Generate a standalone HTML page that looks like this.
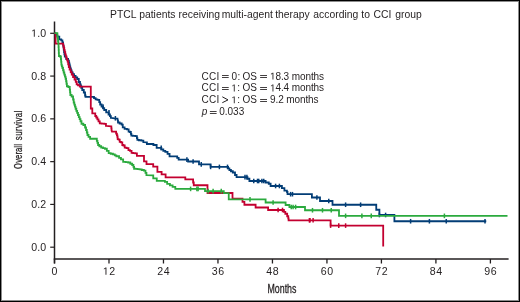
<!DOCTYPE html>
<html><head><meta charset="utf-8"><style>
html,body{margin:0;padding:0;background:#fff;}
body{width:520px;height:302px;overflow:hidden;position:relative;}
#frame{position:absolute;left:0;top:0;width:518px;height:300px;border:1px solid #000;box-shadow:inset 0 0 0 1px rgba(0,0,0,0.45);}
svg{position:absolute;left:0;top:0;will-change:transform;}
.t{font-family:"Liberation Sans",sans-serif;font-size:10.6px;letter-spacing:0.5px;fill:#231f20;}
.c{font-family:"Liberation Sans",sans-serif;font-size:10px;fill:#231f20;}
.one{fill-opacity:0;}
.n{font-family:"Liberation Sans",sans-serif;font-size:12px;fill:#231f20;}
</style></head><body>
<div id="frame"></div>
<svg width="520" height="302" viewBox="0 0 520 302">
<text y="17.55" class="c" style="font-size:10.35px"><tspan x="110.03">PTCL</tspan> <tspan x="139.22">patients</tspan> <tspan x="178.60">receiving</tspan> <tspan x="221.70">multi-agent</tspan> <tspan x="275.24">therapy</tspan> <tspan x="313.35">according</tspan> <tspan x="361.34">to</tspan> <tspan x="373.56">CCI</tspan> <tspan x="395.25">group</tspan></text>
<line x1="54.5" y1="21.5" x2="54.5" y2="263.5" stroke="#231f20" stroke-width="1.5"/>
<line x1="53.75" y1="259" x2="508.6" y2="259" stroke="#231f20" stroke-width="1.5"/>
<line x1="50.2" y1="247.20" x2="54.5" y2="247.20" stroke="#231f20" stroke-width="1.2"/>
<text x="46.2" y="250.70" text-anchor="end" class="t" style="letter-spacing:0.1px">0.0</text>
<line x1="50.2" y1="204.42" x2="54.5" y2="204.42" stroke="#231f20" stroke-width="1.2"/>
<text x="46.2" y="207.92" text-anchor="end" class="t" style="letter-spacing:0.1px">0.2</text>
<line x1="50.2" y1="161.64" x2="54.5" y2="161.64" stroke="#231f20" stroke-width="1.2"/>
<text x="46.2" y="165.14" text-anchor="end" class="t" style="letter-spacing:0.1px">0.4</text>
<line x1="50.2" y1="118.86" x2="54.5" y2="118.86" stroke="#231f20" stroke-width="1.2"/>
<text x="46.2" y="122.36" text-anchor="end" class="t" style="letter-spacing:0.1px">0.6</text>
<line x1="50.2" y1="76.08" x2="54.5" y2="76.08" stroke="#231f20" stroke-width="1.2"/>
<text x="46.2" y="79.58" text-anchor="end" class="t" style="letter-spacing:0.1px">0.8</text>
<line x1="50.2" y1="33.30" x2="54.5" y2="33.30" stroke="#231f20" stroke-width="1.2"/>
<text x="46.2" y="36.80" text-anchor="end" class="t" style="letter-spacing:0.1px"><tspan class="one">1</tspan>.0</text>
<line x1="54.50" y1="259" x2="54.50" y2="263.5" stroke="#231f20" stroke-width="1.3"/>
<text x="54.75" y="274.8" text-anchor="middle" class="t">0</text>
<line x1="108.99" y1="259" x2="108.99" y2="263.5" stroke="#231f20" stroke-width="1.3"/>
<text x="109.24" y="274.8" text-anchor="middle" class="t"><tspan class="one">1</tspan>2</text>
<line x1="163.47" y1="259" x2="163.47" y2="263.5" stroke="#231f20" stroke-width="1.3"/>
<text x="163.72" y="274.8" text-anchor="middle" class="t">24</text>
<line x1="217.96" y1="259" x2="217.96" y2="263.5" stroke="#231f20" stroke-width="1.3"/>
<text x="218.21" y="274.8" text-anchor="middle" class="t">36</text>
<line x1="272.45" y1="259" x2="272.45" y2="263.5" stroke="#231f20" stroke-width="1.3"/>
<text x="272.70" y="274.8" text-anchor="middle" class="t">48</text>
<line x1="326.94" y1="259" x2="326.94" y2="263.5" stroke="#231f20" stroke-width="1.3"/>
<text x="327.19" y="274.8" text-anchor="middle" class="t">60</text>
<line x1="381.42" y1="259" x2="381.42" y2="263.5" stroke="#231f20" stroke-width="1.3"/>
<text x="381.67" y="274.8" text-anchor="middle" class="t">72</text>
<line x1="435.91" y1="259" x2="435.91" y2="263.5" stroke="#231f20" stroke-width="1.3"/>
<text x="436.16" y="274.8" text-anchor="middle" class="t">84</text>
<line x1="490.40" y1="259" x2="490.40" y2="263.5" stroke="#231f20" stroke-width="1.3"/>
<text x="490.65" y="274.8" text-anchor="middle" class="t">96</text>
<text transform="translate(21.5,168.9) rotate(-90) scale(0.66,1)" class="n" style="font-size:11.6px" stroke="#231f20" stroke-width="0.3" textLength="37.5" lengthAdjust="spacing">Overall</text>
<text transform="translate(21.5,140.2) rotate(-90) scale(0.68,1)" class="n" style="font-size:11.6px" stroke="#231f20" stroke-width="0.3" textLength="43.5" lengthAdjust="spacing">survival</text>
<text transform="translate(267.5,292.6) scale(0.68,1)" class="n" style="font-size:13px" stroke="#231f20" stroke-width="0.3" textLength="42.5" lengthAdjust="spacing">Months</text>
<text x="201.6" y="79.6" class="c" style="letter-spacing:0.2px">CCI</text>
<rect x="222.0" y="75" width="6.70" height="1" fill="#231f20" fill-opacity="0.85"/><rect x="222.0" y="77" width="6.70" height="1" fill="#231f20" fill-opacity="0.85"/>
<text x="231.6" y="79.6" class="c" style="letter-spacing:0.4px">0:</text>
<text x="242.5" y="79.6" class="c">OS</text>
<rect x="260.1" y="75" width="6.90" height="1" fill="#231f20" fill-opacity="0.85"/><rect x="260.1" y="77" width="6.90" height="1" fill="#231f20" fill-opacity="0.85"/>
<text x="270.0" y="79.6" class="c" style="letter-spacing:-0.1px"><tspan class="one">1</tspan>8.3 months</text>
<text x="201.6" y="91.4" class="c" style="letter-spacing:0.2px">CCI</text>
<rect x="222.0" y="87" width="6.70" height="1" fill="#231f20" fill-opacity="0.85"/><rect x="222.0" y="89" width="6.70" height="1" fill="#231f20" fill-opacity="0.85"/>
<text x="231.3" y="91.4" class="c" style="letter-spacing:0.4px"><tspan class="one">1</tspan>:</text>
<text x="242.5" y="91.4" class="c">OS</text>
<rect x="260.1" y="87" width="6.90" height="1" fill="#231f20" fill-opacity="0.85"/><rect x="260.1" y="89" width="6.90" height="1" fill="#231f20" fill-opacity="0.85"/>
<text x="270.0" y="91.4" class="c" style="letter-spacing:-0.1px"><tspan class="one">1</tspan>4.4 months</text>
<text x="201.6" y="103.3" class="c" style="letter-spacing:0.2px">CCI</text>
<polyline points="222.3,96.80 228,99.90 222.3,102.70" fill="none" stroke="#231f20" stroke-width="1"/>
<text x="231.3" y="103.3" class="c" style="letter-spacing:0.4px"><tspan class="one">1</tspan>:</text>
<text x="242.5" y="103.3" class="c">OS</text>
<rect x="260.1" y="99" width="6.90" height="1" fill="#231f20" fill-opacity="0.85"/><rect x="260.1" y="101" width="6.90" height="1" fill="#231f20" fill-opacity="0.85"/>
<text x="270.0" y="103.3" class="c" style="letter-spacing:-0.1px">9.2 months</text>
<text x="201.8" y="115.1" class="c" font-style="italic">p</text>
<rect x="209.9" y="111" width="6.70" height="1" fill="#231f20" fill-opacity="0.85"/><rect x="209.9" y="113" width="6.70" height="1" fill="#231f20" fill-opacity="0.85"/>
<text x="219.2" y="115.1" class="c">0.033</text>
<polyline points="54.50,33.20 55.50,33.20 55.50,34.50 56.50,34.50 57.25,34.50 57.25,36.60 58.00,36.60 59.30,36.60 59.30,39.30 60.60,39.30 61.25,39.30 61.25,40.30 61.90,40.30 62.40,40.30 62.40,42.30 62.90,42.30 63.08,42.30 63.08,44.65 63.42,44.65 63.42,47.00 63.60,47.00 63.75,47.00 63.75,49.50 64.05,49.50 64.05,52.00 64.20,52.00 64.40,52.00 64.40,54.35 64.80,54.35 64.80,56.70 65.00,56.70 66.25,56.70 66.25,59.00 67.50,59.00 68.10,59.00 68.10,60.70 68.70,60.70 68.90,60.70 68.90,62.60 69.30,62.60 69.30,64.50 69.50,64.50 69.75,64.50 69.75,66.50 70.25,66.50 70.25,68.50 70.50,68.50 70.88,68.50 70.88,70.50 71.62,70.50 71.62,72.50 72.00,72.50 72.67,72.50 72.67,74.25 74.03,74.25 74.03,76.00 74.70,76.00 75.60,76.00 75.60,77.50 76.50,77.50 77.25,77.50 77.25,79.00 78.00,79.00 78.75,79.00 78.75,82.00 79.50,82.00 80.00,82.00 80.00,84.50 80.50,84.50 80.75,84.50 80.75,86.15 81.25,86.15 81.25,87.80 81.50,87.80 82.25,87.80 82.25,90.00 83.00,90.00 83.80,90.00 83.80,92.50 84.60,92.50 85.05,92.50 85.05,95.50 85.50,95.50 85.50,96.90 92.75,96.90 94.00,96.90 94.00,98.10 95.25,98.10 95.62,98.10 95.62,99.40 96.00,99.40 97.40,99.40 97.40,99.90 98.80,99.90 99.25,99.90 99.25,102.20 100.15,102.20 100.15,104.50 100.60,104.50 101.55,104.50 101.55,106.50 102.50,106.50 103.08,106.50 103.08,108.25 104.22,108.25 104.22,110.00 104.80,110.00 106.20,110.00 106.20,112.40 107.60,112.40 108.55,112.40 108.55,114.50 109.50,114.50 109.95,114.50 109.95,116.20 110.85,116.20 110.85,117.90 111.30,117.90 114.50,118.30 117.50,118.50 117.80,120.70 118.00,120.70 118.00,122.50 118.20,122.50 119.60,122.50 119.60,123.50 121.00,123.50 121.65,123.50 121.65,124.60 122.30,124.60 122.75,124.60 122.75,127.40 123.20,127.40 124.60,127.40 124.60,128.80 126.00,128.80 126.95,128.80 126.95,129.30 127.90,129.30 128.60,129.30 128.60,131.60 129.30,131.60 129.95,131.60 129.95,132.00 130.60,132.00 130.85,132.00 130.85,133.85 131.35,133.85 131.35,135.70 131.60,135.70 132.88,135.70 132.88,135.95 135.42,135.95 135.42,136.20 136.70,136.20 136.92,136.20 136.92,138.05 137.38,138.05 137.38,139.90 137.60,139.90 138.88,139.90 138.88,140.25 141.42,140.25 141.42,140.60 142.70,140.60 143.35,140.60 143.35,142.20 144.00,142.20 146.40,142.40 146.90,142.40 146.90,144.00 147.40,144.00 152.90,144.00 153.40,144.00 153.40,145.00 153.90,145.00 155.90,145.00 156.65,145.00 156.65,147.90 157.40,147.90 160.40,147.90 161.35,147.90 161.35,149.40 162.30,149.40 163.30,149.40 163.30,150.90 164.30,150.90 165.30,150.90 165.30,151.90 166.30,151.90 167.55,151.90 167.55,153.90 168.80,153.90 169.55,153.90 169.55,156.40 170.30,156.40 176.70,156.40 177.20,156.40 177.20,157.90 177.70,157.90 178.65,157.90 178.65,159.60 179.60,159.60 188.10,159.60 188.10,161.50 199.00,161.50 199.00,164.40 210.60,164.40 210.60,166.90 227.50,166.90 228.12,166.90 228.12,168.45 229.38,168.45 229.38,170.00 230.00,170.00 230.94,170.00 230.94,171.25 232.81,171.25 232.81,172.50 233.75,172.50 235.00,172.50 235.00,175.00 236.25,175.00 236.57,175.00 236.57,177.10 236.90,177.10 247.50,177.10 247.50,178.75 249.40,178.75 249.40,181.00 265.60,181.00 265.60,182.50 268.75,182.50 268.75,183.75 270.60,183.75 270.60,186.00 281.90,186.00 281.90,188.10 284.40,188.10 284.40,190.60 286.90,190.60 286.90,191.90 287.50,191.90 287.50,194.20 311.90,194.20 311.90,197.50 320.00,197.50 320.00,201.00 332.50,201.00 332.50,204.75 376.25,204.75 376.25,209.75 379.40,209.75 379.40,215.00 394.40,215.00 394.40,221.25 486.25,221.25" fill="none" stroke="#023d76" stroke-width="1.8" stroke-linejoin="miter" stroke-linecap="butt"/>
<line x1="103.00" y1="104.20" x2="103.00" y2="108.80" stroke="#023d76" stroke-width="1.5"/>
<line x1="109.00" y1="110.10" x2="109.00" y2="114.70" stroke="#023d76" stroke-width="1.5"/>
<line x1="115.40" y1="116.00" x2="115.40" y2="120.60" stroke="#023d76" stroke-width="1.5"/>
<line x1="161.20" y1="145.60" x2="161.20" y2="150.20" stroke="#023d76" stroke-width="1.5"/>
<line x1="186.90" y1="157.30" x2="186.90" y2="161.90" stroke="#023d76" stroke-width="1.5"/>
<line x1="193.10" y1="159.20" x2="193.10" y2="163.80" stroke="#023d76" stroke-width="1.5"/>
<line x1="201.25" y1="162.10" x2="201.25" y2="166.70" stroke="#023d76" stroke-width="1.5"/>
<line x1="210.60" y1="164.60" x2="210.60" y2="169.20" stroke="#023d76" stroke-width="1.5"/>
<line x1="219.40" y1="164.60" x2="219.40" y2="169.20" stroke="#023d76" stroke-width="1.5"/>
<line x1="227.50" y1="164.60" x2="227.50" y2="169.20" stroke="#023d76" stroke-width="1.5"/>
<line x1="245.00" y1="174.80" x2="245.00" y2="179.40" stroke="#023d76" stroke-width="1.5"/>
<line x1="246.90" y1="174.80" x2="246.90" y2="179.40" stroke="#023d76" stroke-width="1.5"/>
<line x1="253.75" y1="178.70" x2="253.75" y2="183.30" stroke="#023d76" stroke-width="1.5"/>
<line x1="257.50" y1="178.70" x2="257.50" y2="183.30" stroke="#023d76" stroke-width="1.5"/>
<line x1="258.75" y1="178.70" x2="258.75" y2="183.30" stroke="#023d76" stroke-width="1.5"/>
<line x1="261.90" y1="178.70" x2="261.90" y2="183.30" stroke="#023d76" stroke-width="1.5"/>
<line x1="263.75" y1="178.70" x2="263.75" y2="183.30" stroke="#023d76" stroke-width="1.5"/>
<line x1="275.60" y1="183.70" x2="275.60" y2="188.30" stroke="#023d76" stroke-width="1.5"/>
<line x1="279.40" y1="183.70" x2="279.40" y2="188.30" stroke="#023d76" stroke-width="1.5"/>
<line x1="290.60" y1="191.90" x2="290.60" y2="196.50" stroke="#023d76" stroke-width="1.5"/>
<line x1="292.50" y1="191.90" x2="292.50" y2="196.50" stroke="#023d76" stroke-width="1.5"/>
<line x1="316.90" y1="195.20" x2="316.90" y2="199.80" stroke="#023d76" stroke-width="1.5"/>
<line x1="328.75" y1="198.70" x2="328.75" y2="203.30" stroke="#023d76" stroke-width="1.5"/>
<line x1="345.60" y1="202.45" x2="345.60" y2="207.05" stroke="#023d76" stroke-width="1.5"/>
<line x1="360.60" y1="202.45" x2="360.60" y2="207.05" stroke="#023d76" stroke-width="1.5"/>
<line x1="379.40" y1="212.70" x2="379.40" y2="217.30" stroke="#023d76" stroke-width="1.5"/>
<line x1="385.60" y1="212.70" x2="385.60" y2="217.30" stroke="#023d76" stroke-width="1.5"/>
<line x1="410.60" y1="218.95" x2="410.60" y2="223.55" stroke="#023d76" stroke-width="1.5"/>
<line x1="429.40" y1="218.95" x2="429.40" y2="223.55" stroke="#023d76" stroke-width="1.5"/>
<line x1="446.25" y1="218.95" x2="446.25" y2="223.55" stroke="#023d76" stroke-width="1.5"/>
<line x1="485.00" y1="218.95" x2="485.00" y2="223.55" stroke="#023d76" stroke-width="1.5"/>
<polyline points="54.50,33.20 55.60,33.60 55.60,43.60 62.90,43.60 63.17,43.60 63.17,45.80 63.73,45.80 63.73,48.00 64.00,48.00 64.25,48.00 64.25,50.10 64.75,50.10 64.75,52.20 65.25,52.20 65.25,54.30 65.50,54.30 65.80,54.30 65.80,56.30 66.40,56.30 66.40,58.30 66.70,58.30 67.00,58.30 67.00,59.90 67.60,59.90 67.60,61.50 67.90,61.50 68.20,61.50 68.20,64.25 68.80,64.25 68.80,67.00 69.10,67.00 69.63,67.00 69.63,69.57 70.70,69.57 70.70,72.13 71.77,72.13 71.77,74.70 72.30,74.70 73.05,74.70 73.05,77.10 74.55,77.10 74.55,79.50 75.30,79.50 75.75,79.50 75.75,81.95 76.65,81.95 76.65,84.40 77.10,84.40 78.00,84.40 78.00,85.30 78.90,85.30 79.80,85.30 79.80,86.70 80.70,86.70 90.80,86.70 90.80,108.50 92.30,108.50 92.30,113.40 95.00,113.40 95.25,113.40 95.25,116.00 95.50,116.00 96.25,116.00 96.25,117.50 97.00,117.50 97.35,117.50 97.35,119.40 97.70,119.40 98.50,119.40 98.50,121.40 99.30,121.40 99.75,121.40 99.75,123.40 100.20,123.40 101.58,123.40 101.58,123.65 104.33,123.65 104.33,123.90 105.70,123.90 105.95,123.90 105.95,125.90 106.20,125.90 111.20,126.30 111.33,126.30 111.33,128.30 111.58,128.30 111.58,130.30 111.70,130.30 112.00,131.70 115.70,131.70 116.10,131.70 116.10,133.55 116.90,133.55 116.90,135.40 117.30,135.40 117.42,135.40 117.42,137.25 117.67,137.25 117.67,139.10 117.80,139.10 118.60,139.10 118.60,139.70 119.40,139.70 119.70,139.70 119.70,141.80 120.00,141.80 121.00,141.80 121.00,142.30 122.00,142.30 122.30,142.30 122.30,145.00 122.60,145.00 123.40,145.00 123.40,145.50 124.20,145.50 124.70,145.50 124.70,147.60 125.20,147.60 126.55,147.60 126.55,148.10 127.90,148.10 128.45,148.10 128.45,150.20 129.00,150.20 130.00,150.20 130.00,150.80 131.00,150.80 131.55,150.80 131.55,152.90 132.10,152.90 133.18,152.90 133.18,153.15 135.32,153.15 135.32,153.40 136.40,153.40 136.90,153.40 136.90,155.90 137.40,155.90 144.00,155.90 144.00,161.30 146.50,161.30 146.50,164.20 153.20,164.20 153.20,166.60 157.40,166.60 157.40,171.90 161.60,171.90 161.60,174.40 165.60,174.40 165.60,177.40 185.30,177.40 185.30,179.40 193.10,179.40 193.10,182.50 193.75,182.50 193.75,185.25 207.50,185.25 207.50,193.00 232.50,193.00 232.50,198.75 242.50,198.75 242.50,201.90 244.40,201.90 244.40,204.75 255.60,204.75 255.60,207.50 268.10,207.50 268.10,210.00 283.50,210.00 283.95,210.00 283.95,211.90 284.40,211.90 285.32,211.90 285.32,213.75 286.25,213.75 287.18,213.75 287.18,216.25 288.10,216.25 288.26,216.25 288.26,218.28 288.59,218.28 288.59,220.30 288.75,220.30 330.60,220.30 330.60,225.60 383.20,225.60 383.20,246.50" fill="none" stroke="#c30030" stroke-width="1.8" stroke-linejoin="miter" stroke-linecap="butt"/>
<line x1="278.10" y1="207.70" x2="278.10" y2="212.30" stroke="#c30030" stroke-width="1.5"/>
<line x1="282.50" y1="207.70" x2="282.50" y2="212.30" stroke="#c30030" stroke-width="1.5"/>
<line x1="309.40" y1="218.00" x2="309.40" y2="222.60" stroke="#c30030" stroke-width="1.5"/>
<line x1="310.00" y1="218.00" x2="310.00" y2="222.60" stroke="#c30030" stroke-width="1.5"/>
<line x1="313.10" y1="218.00" x2="313.10" y2="222.60" stroke="#c30030" stroke-width="1.5"/>
<line x1="330.60" y1="223.30" x2="330.60" y2="227.90" stroke="#c30030" stroke-width="1.5"/>
<line x1="338.75" y1="223.30" x2="338.75" y2="227.90" stroke="#c30030" stroke-width="1.5"/>
<line x1="345.60" y1="223.30" x2="345.60" y2="227.90" stroke="#c30030" stroke-width="1.5"/>
<polyline points="54.50,33.10 57.20,33.10 57.36,33.10 57.36,35.83 57.69,35.83 57.69,38.55 58.01,38.55 58.01,41.27 58.34,41.27 58.34,44.00 58.50,44.00 58.56,44.00 58.56,47.00 58.69,47.00 58.69,50.00 58.81,50.00 58.81,53.00 58.94,53.00 58.94,56.00 59.00,56.00 59.90,56.00 59.90,56.50 60.80,56.50 60.92,56.50 60.92,59.23 61.15,59.23 61.15,61.97 61.38,61.97 61.38,64.70 61.50,64.70 61.80,64.70 61.80,66.35 62.40,66.35 62.40,68.00 62.70,68.00 63.03,68.00 63.03,70.25 63.67,70.25 63.67,72.50 64.00,72.50 64.32,72.50 64.32,74.58 64.95,74.58 64.95,76.67 65.58,76.67 65.58,78.75 65.90,78.75 66.10,78.75 66.10,81.25 66.50,81.25 66.50,83.75 66.90,83.75 66.90,86.25 67.10,86.25 68.35,86.25 68.35,87.00 69.60,87.00 69.75,87.00 69.75,89.67 70.05,89.67 70.05,92.33 70.35,92.33 70.35,95.00 70.50,95.00 71.62,95.00 71.62,96.50 72.75,96.50 73.06,96.50 73.06,99.50 73.69,99.50 73.69,102.50 74.00,102.50 74.32,102.50 74.32,104.58 74.95,104.58 74.95,106.67 75.58,106.67 75.58,108.75 75.90,108.75 76.32,108.75 76.32,110.83 77.15,110.83 77.15,112.92 77.98,112.92 77.98,115.00 78.40,115.00 78.82,115.00 78.82,117.08 79.65,117.08 79.65,119.17 80.48,119.17 80.48,121.25 80.90,121.25 81.50,121.25 81.50,123.75 82.10,123.75 83.35,123.75 83.35,125.00 84.60,125.00 85.07,125.00 85.07,127.50 86.03,127.50 86.03,130.00 86.50,130.00 86.81,130.00 86.81,132.50 87.44,132.50 87.44,135.00 87.75,135.00 88.54,135.00 88.54,136.88 90.11,136.88 90.11,138.75 90.90,138.75 96.50,138.75 96.82,138.75 96.82,140.83 97.45,140.83 97.45,142.92 98.08,142.92 98.08,145.00 98.40,145.00 99.33,145.00 99.33,146.25 101.17,146.25 101.17,147.50 102.10,147.50 103.05,147.50 103.05,148.12 104.95,148.12 104.95,148.75 105.90,148.75 106.83,148.75 106.83,150.93 108.67,150.93 108.67,153.10 109.60,153.10 110.70,153.10 110.70,153.75 112.90,153.75 112.90,154.40 114.00,154.40 114.78,154.40 114.78,155.32 116.32,155.32 116.32,156.25 117.10,156.25 118.10,156.25 119.05,156.25 119.05,157.82 120.95,157.82 120.95,159.40 121.90,159.40 123.15,159.40 123.15,161.90 124.40,161.90 125.65,161.90 125.65,162.20 128.15,162.20 128.15,162.50 129.40,162.50 130.32,162.50 130.32,163.75 132.18,163.75 132.18,165.00 133.10,165.00 133.43,165.00 133.43,166.88 134.07,166.88 134.07,168.75 134.40,168.75 135.43,168.75 135.43,168.97 137.50,168.97 137.50,169.18 139.57,169.18 139.57,169.40 140.60,169.40 141.70,169.40 141.70,170.00 143.90,170.00 143.90,170.60 145.00,170.60 145.47,170.60 145.47,172.90 146.43,172.90 146.43,175.20 146.90,175.20 152.50,175.40 153.25,175.40 153.25,178.40 154.00,178.40 156.50,178.40 156.75,178.40 156.75,180.90 157.00,180.90 163.90,180.90 164.90,180.90 164.90,181.90 165.90,181.90 167.15,181.90 167.15,183.80 168.40,183.80 169.90,183.80 169.90,185.30 171.40,185.30 172.60,185.30 172.60,186.80 173.80,186.80 175.30,186.80 175.30,188.90 176.80,188.90 205.00,188.90 205.00,191.10 223.75,191.10 223.75,193.10 228.75,193.10 228.75,199.40 265.60,199.40 265.60,202.50 285.60,202.50 285.60,205.00 289.40,205.00 289.40,207.00 305.00,207.00 305.00,210.25 339.00,210.25 339.00,215.85 507.50,215.85" fill="none" stroke="#2baa3e" stroke-width="1.8" stroke-linejoin="miter" stroke-linecap="butt"/>
<line x1="190.60" y1="186.60" x2="190.60" y2="191.20" stroke="#2baa3e" stroke-width="1.5"/>
<line x1="196.90" y1="186.60" x2="196.90" y2="191.20" stroke="#2baa3e" stroke-width="1.5"/>
<line x1="198.10" y1="186.60" x2="198.10" y2="191.20" stroke="#2baa3e" stroke-width="1.5"/>
<line x1="208.10" y1="188.80" x2="208.10" y2="193.40" stroke="#2baa3e" stroke-width="1.5"/>
<line x1="213.10" y1="188.80" x2="213.10" y2="193.40" stroke="#2baa3e" stroke-width="1.5"/>
<line x1="221.25" y1="188.80" x2="221.25" y2="193.40" stroke="#2baa3e" stroke-width="1.5"/>
<line x1="250.00" y1="197.10" x2="250.00" y2="201.70" stroke="#2baa3e" stroke-width="1.5"/>
<line x1="273.10" y1="200.20" x2="273.10" y2="204.80" stroke="#2baa3e" stroke-width="1.5"/>
<line x1="291.25" y1="204.70" x2="291.25" y2="209.30" stroke="#2baa3e" stroke-width="1.5"/>
<line x1="293.10" y1="204.70" x2="293.10" y2="209.30" stroke="#2baa3e" stroke-width="1.5"/>
<line x1="295.60" y1="204.70" x2="295.60" y2="209.30" stroke="#2baa3e" stroke-width="1.5"/>
<line x1="312.50" y1="207.95" x2="312.50" y2="212.55" stroke="#2baa3e" stroke-width="1.5"/>
<line x1="322.50" y1="207.95" x2="322.50" y2="212.55" stroke="#2baa3e" stroke-width="1.5"/>
<line x1="331.25" y1="207.95" x2="331.25" y2="212.55" stroke="#2baa3e" stroke-width="1.5"/>
<line x1="345.60" y1="213.55" x2="345.60" y2="218.15" stroke="#2baa3e" stroke-width="1.5"/>
<line x1="361.90" y1="213.55" x2="361.90" y2="218.15" stroke="#2baa3e" stroke-width="1.5"/>
<line x1="371.25" y1="213.55" x2="371.25" y2="218.15" stroke="#2baa3e" stroke-width="1.5"/>
<line x1="444.40" y1="213.55" x2="444.40" y2="218.15" stroke="#2baa3e" stroke-width="1.5"/>
<path transform="translate(31.153,36.800) scale(0.005176,-0.005176)" d="M515 0L515 1237L197 1010L197 1180L530 1409L696 1409L696 0Z" fill="#231f20"/>
<path transform="translate(102.834,274.800) scale(0.005176,-0.005176)" d="M515 0L515 1237L197 1010L197 1180L530 1409L696 1409L696 0Z" fill="#231f20"/>
<path transform="translate(270.000,79.600) scale(0.004883,-0.004883)" d="M515 0L515 1237L197 1010L197 1180L530 1409L696 1409L696 0Z" fill="#231f20"/>
<path transform="translate(231.300,91.400) scale(0.004883,-0.004883)" d="M515 0L515 1237L197 1010L197 1180L530 1409L696 1409L696 0Z" fill="#231f20"/>
<path transform="translate(270.000,91.400) scale(0.004883,-0.004883)" d="M515 0L515 1237L197 1010L197 1180L530 1409L696 1409L696 0Z" fill="#231f20"/>
<path transform="translate(231.300,103.300) scale(0.004883,-0.004883)" d="M515 0L515 1237L197 1010L197 1180L530 1409L696 1409L696 0Z" fill="#231f20"/>
</svg>
</body></html>
